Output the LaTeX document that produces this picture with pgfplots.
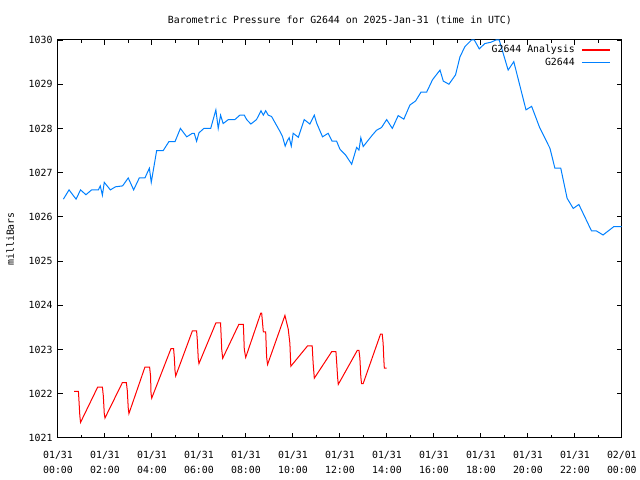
\documentclass[border=0pt]{standalone}
\usepackage{fontspec}
\setmainfont{DejaVu Sans Mono}
\usepackage{pgfplots}
\pgfplotsset{compat=1.18}
\definecolor{gblue}{RGB}{0,128,255}
\definecolor{gred}{RGB}{255,0,0}
\newcommand\gf{\fontsize{9.85}{12}\selectfont}
\newcommand\gfx{\fontsize{9.85}{15}\selectfont}
\begin{document}
\begin{tikzpicture}[x=1pt,y=1pt]
\path (0,0) rectangle (640,480);
\begin{axis}[
  at={(58pt,42pt)}, anchor=south west,
  width=564pt, height=398pt, scale only axis,
  xmin=0, xmax=24, ymin=1021, ymax=1030,
  xtick={0,2,...,24}, minor xtick={1,3,...,23},
  xticklabels={01/31\\00:00,01/31\\02:00,01/31\\04:00,01/31\\06:00,01/31\\08:00,01/31\\10:00,01/31\\12:00,01/31\\14:00,01/31\\16:00,01/31\\18:00,01/31\\20:00,01/31\\22:00,02/01\\00:00},
  xticklabel style={align=center, font=\gfx, yshift=-10pt},
  ytick={1021,1022,...,1030},
  yticklabel style={font=\gf, xshift=-2pt},
  /pgf/number format/assume math mode=true,
  /pgf/number format/1000 sep={},
  tick align=inside,
  major tick length=5pt, minor tick length=3pt,
  tick style={black, line width=1pt},
  axis line style={line width=1pt},
  ylabel={milliBars},
  ylabel style={font=\gf, at={(axis description cs:-0.085,0.5)}, anchor=center},
  title={Barometric Pressure for G2644 on 2025-Jan-31 (time in UTC)},
  title style={font=\gf, yshift=6pt},
  clip=false,
]
\addplot[gred, line width=1pt] coordinates {
(0.69,1022.05) (0.87,1022.05) (0.89,1021.87) (0.93,1021.50) (0.96,1021.35)
(1.69,1022.15) (1.89,1022.15) (1.93,1021.95) (1.97,1021.55) (2.00,1021.45)
(2.74,1022.25) (2.91,1022.25) (2.95,1022.07) (2.99,1021.68) (3.02,1021.55)
(3.70,1022.60) (3.90,1022.60) (3.94,1022.40) (3.96,1022.01) (3.99,1021.90)
(4.81,1023.02) (4.92,1023.02) (4.95,1022.83) (4.98,1022.53) (5.01,1022.40)
(5.72,1023.42) (5.90,1023.42) (5.93,1023.21) (5.97,1022.80) (6.00,1022.68)
(6.72,1023.60) (6.92,1023.60) (6.97,1023.00) (7.01,1022.80)
(7.70,1023.57) (7.89,1023.57) (7.93,1023.00) (7.99,1022.82)
(8.63,1023.82) (8.67,1023.82) (8.74,1023.40) (8.84,1023.40) (8.88,1022.83) (8.92,1022.66)
(9.66,1023.77) (9.80,1023.46) (9.87,1023.14) (9.91,1022.62)
(10.62,1023.08) (10.82,1023.08) (10.86,1022.69) (10.91,1022.35)
(11.65,1022.95) (11.83,1022.95) (11.86,1022.72) (11.90,1022.38) (11.93,1022.21)
(12.74,1022.98) (12.81,1022.98) (12.85,1022.80) (12.89,1022.38) (12.92,1022.23) (12.99,1022.23)
(13.73,1023.35) (13.80,1023.35) (13.84,1023.14) (13.87,1022.76) (13.89,1022.58) (13.99,1022.58)
};
\addplot[gblue, line width=1pt] coordinates {
(0.23,1026.40) (0.47,1026.61) (0.77,1026.40) (0.96,1026.61) (1.19,1026.50)
(1.43,1026.61) (1.72,1026.61) (1.80,1026.70) (1.89,1026.49) (1.97,1026.78)
(2.23,1026.61) (2.45,1026.68) (2.75,1026.70) (2.99,1026.88) (3.22,1026.61)
(3.46,1026.88) (3.70,1026.88) (3.89,1027.10) (3.97,1026.78) (4.20,1027.50)
(4.48,1027.50) (4.72,1027.70) (4.98,1027.70) (5.21,1028.00) (5.48,1027.81)
(5.72,1027.89) (5.80,1027.89) (5.90,1027.71) (6.00,1027.90) (6.21,1028.00)
(6.50,1028.00) (6.72,1028.42) (6.82,1028.00) (6.92,1028.30) (7.03,1028.11)
(7.25,1028.20) (7.53,1028.20) (7.74,1028.30) (7.93,1028.30) (8.03,1028.20)
(8.21,1028.10) (8.45,1028.20) (8.64,1028.40) (8.74,1028.30) (8.84,1028.40)
(8.95,1028.30) (9.09,1028.27) (9.45,1027.93) (9.56,1027.81) (9.67,1027.60)
(9.76,1027.72) (9.84,1027.79) (9.93,1027.60) (10.01,1027.89) (10.23,1027.80)
(10.48,1028.20) (10.72,1028.10) (10.91,1028.30) (11.01,1028.12) (11.26,1027.81)
(11.50,1027.89) (11.67,1027.71) (11.86,1027.71) (12.00,1027.53) (12.24,1027.40)
(12.50,1027.19) (12.71,1027.57) (12.81,1027.51) (12.89,1027.79) (12.99,1027.59)
(13.38,1027.85) (13.56,1027.96) (13.77,1028.02) (13.99,1028.20) (14.23,1028.00)
(14.48,1028.29) (14.72,1028.21) (14.98,1028.53) (15.22,1028.62) (15.45,1028.82)
(15.69,1028.82) (15.94,1029.10) (16.26,1029.32) (16.40,1029.07) (16.64,1029.00)
(16.92,1029.21) (17.11,1029.62) (17.32,1029.85) (17.60,1030.00) (17.72,1030.00)
(17.93,1029.80) (18.17,1029.92) (18.43,1029.95) (18.64,1030.00) (18.78,1030.00)
(19.16,1029.32) (19.40,1029.51) (19.92,1028.42) (20.16,1028.50) (20.50,1028.02)
(20.94,1027.55) (21.15,1027.10) (21.40,1027.10) (21.67,1026.42) (21.93,1026.19)
(22.17,1026.28) (22.71,1025.68) (22.92,1025.68) (23.20,1025.59) (23.66,1025.78)
(23.99,1025.78)
};
% legend (key swatches and labels)
\node[anchor=mid east, font=\gf, inner sep=0pt] at (rel axis cs:0.9167,0.9749) {G2644 Analysis};
\node[anchor=mid east, font=\gf, inner sep=0pt] at (rel axis cs:0.9167,0.9422) {G2644};
\draw[gred, line width=1.2pt] (rel axis cs:0.9291,0.9749) -- (rel axis cs:0.9787,0.9749);
\draw[gblue, line width=1pt] (rel axis cs:0.9291,0.9422) -- (rel axis cs:0.9787,0.9422);
\end{axis}
\end{tikzpicture}
\end{document}
